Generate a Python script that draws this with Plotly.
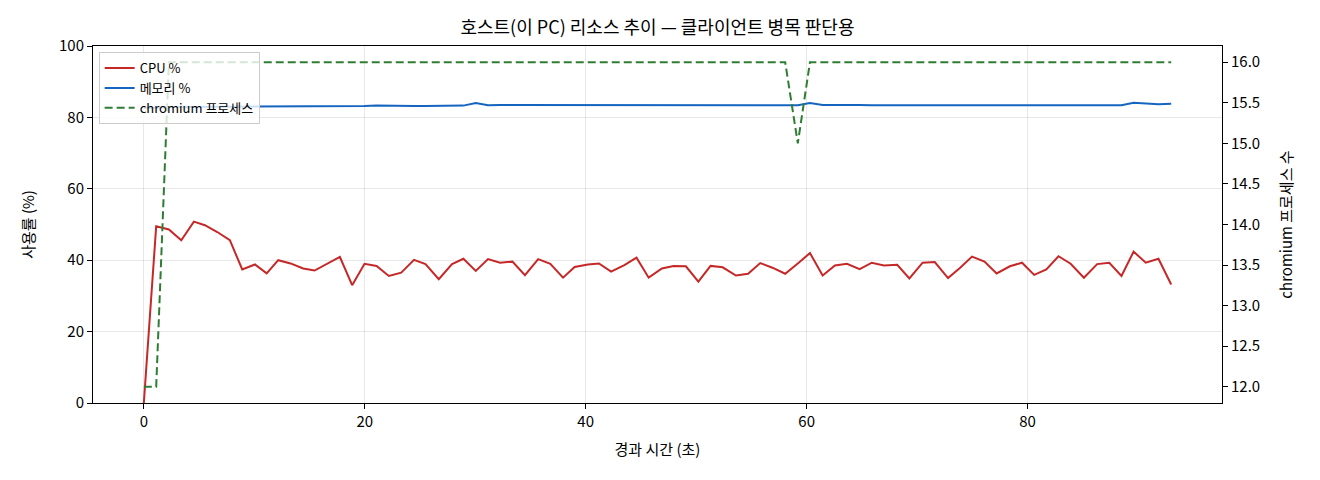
import plotly.graph_objects as go

# elapsed seconds
t_sec = [0.0, 1.12, 2.27, 3.39, 4.53, 5.53, 6.65, 7.79, 8.91, 10.06, 11.12, 12.17,
         13.28, 14.43, 15.46, 16.6, 17.75, 18.86, 19.98, 21.07, 22.18, 23.3,
         24.46, 25.5, 26.7, 27.9, 28.93, 30.05, 31.16, 32.25, 33.37, 34.5, 35.7,
         36.8, 37.95, 39.0, 40.2, 41.2, 42.3, 43.5, 44.6, 45.7, 46.9,
         47.95, 49.07, 50.2, 51.3, 52.4, 53.6, 54.7, 55.8, 56.9, 58.06, 59.2,
         60.3, 61.45, 62.56, 63.65, 64.8, 65.9, 67.0, 68.2, 69.3, 70.5,
         71.6, 72.8, 73.9, 74.97, 76.1, 77.2, 78.4, 79.5, 80.6, 81.7, 82.8,
         83.9, 85.1, 86.3, 87.4, 88.5, 89.6, 90.7, 91.85, 93.0]

cpu = [0.0, 49.5, 48.6, 45.6, 50.8, 49.8, 47.9, 45.6, 37.4, 38.8, 36.3, 40.0,
       39.1, 37.7, 37.1, 39.0, 40.9, 33.0, 39.0, 38.4, 35.6, 36.5,
       40.1, 38.9, 34.7, 38.9, 40.4, 37.0, 40.3, 39.3, 39.6, 35.8, 40.3,
       39.0, 35.1, 38.1, 38.8, 39.1, 36.8, 38.6, 40.7, 35.1, 37.7,
       38.4, 38.3, 34.0, 38.4, 38.0, 35.7, 36.2, 39.2, 37.9, 36.2, 39.1,
       42.0, 35.7, 38.5, 39.0, 37.5, 39.3, 38.5, 38.7, 34.9, 39.3,
       39.5, 35.0, 37.9, 41.0, 39.6, 36.3, 38.3, 39.3, 35.9, 37.4, 41.1,
       39.0, 35.1, 38.9, 39.3, 35.6, 42.4, 39.3, 40.4, 33.2]

mem = [82.6, 82.8, 82.9, 83.0, 82.9, 83.0, 83.0, 83.0, 83.0, 83.0, 83.1, 83.0,
       83.1, 83.1, 83.2, 83.1, 83.1, 83.2, 83.2, 83.3, 83.2, 83.2,
       83.2, 83.2, 83.2, 83.2, 83.3, 84.0, 83.4, 83.5, 83.5, 83.4, 83.5,
       83.5, 83.4, 83.4, 83.5, 83.5, 83.5, 83.5, 83.5, 83.5, 83.5,
       83.5, 83.5, 83.5, 83.5, 83.5, 83.5, 83.5, 83.5, 83.4, 83.4, 83.4,
       84.0, 83.5, 83.5, 83.6, 83.5, 83.4, 83.4, 83.4, 83.4, 83.4,
       83.4, 83.5, 83.5, 83.6, 83.5, 83.5, 83.5, 83.5, 83.5, 83.5, 83.6,
       83.6, 83.5, 83.4, 83.5, 83.4, 84.1, 83.9, 83.7, 83.8]

chromium = [12, 12, 16, 16, 16, 16, 16, 16, 16, 16, 16, 16,
            16, 16, 16, 16, 16, 16, 16, 16, 16, 16,
            16, 16, 16, 16, 16, 16, 16, 16, 16, 16, 16,
            16, 16, 16, 16, 16, 16, 16, 16, 16, 16,
            16, 16, 16, 16, 16, 16, 16, 16, 16, 16, 15,
            16, 16, 16, 16, 16, 16, 16, 16, 16, 16,
            16, 16, 16, 16, 16, 16, 16, 16, 16, 16, 16,
            16, 16, 16, 16, 16, 16, 16, 16, 16]

right_ticks = [12.0, 12.5, 13.0, 13.5, 14.0, 14.5, 15.0, 15.5, 16.0]

FONT = "Noto Sans CJK KR"

fig = go.Figure()
fig.add_trace(go.Scatter(x=t_sec, y=cpu, mode='lines', name='CPU %',
                         line=dict(color='#c62828', width=2)))
fig.add_trace(go.Scatter(x=t_sec, y=mem, mode='lines', name='메모리 %',
                         line=dict(color='#1565c0', width=2)))
fig.add_trace(go.Scatter(x=t_sec, y=chromium, mode='lines', name='chromium 프로세스',
                         line=dict(color='#2e7d32', width=2, dash='8px,4px'), yaxis='y2'))

# page body adds 8px, so margins are shifted to put the plot box where the reference has it
fig.update_layout(
    width=1320, height=480,
    paper_bgcolor='white', plot_bgcolor='white',
    font=dict(family=FONT, color='black', size=13),
    margin=dict(l=85, r=106, t=38, b=85),
    title=dict(text='호스트(이 PC) 리소스 추이 — 클라이언트 병목 판단용',
               x=0.492, xanchor='center', y=0.958, yanchor='middle',
               font=dict(size=18)),
    xaxis=dict(range=[-4.6, 97.6], dtick=20, tick0=0, showgrid=True,
               gridcolor='rgba(0,0,0,0.09)', showline=True, linecolor='black',
               mirror=True, ticks='outside', ticklen=5, tickcolor='black',
               zeroline=False, tickfont=dict(size=15),
               title=dict(text='경과 시간 (초)', font=dict(size=15), standoff=14)),
    yaxis=dict(range=[0, 100], dtick=20, showgrid=True,
               gridcolor='rgba(0,0,0,0.09)', showline=True, linecolor='black',
               ticks='outside', ticklen=5, tickcolor='black', zeroline=False,
               tickfont=dict(size=15),
               title=dict(text='사용률 (%)', font=dict(size=15), standoff=20)),
    yaxis2=dict(range=[11.8, 16.2], tickvals=right_ticks, tickformat='.1f',
                overlaying='y', side='right', showgrid=False, showline=True,
                linecolor='black', ticks='outside', ticklen=5, tickcolor='black',
                zeroline=False, tickfont=dict(size=15),
                title=dict(text='chromium 프로세스 수', font=dict(size=15), standoff=22)),
    legend=dict(x=0.005, y=0.983, xanchor='left', yanchor='top',
                bgcolor='rgba(255,255,255,0.8)', bordercolor='#cccccc',
                borderwidth=1, font=dict(size=13), tracegroupgap=0),
    showlegend=True,
)

fig.write_html("out.html")
